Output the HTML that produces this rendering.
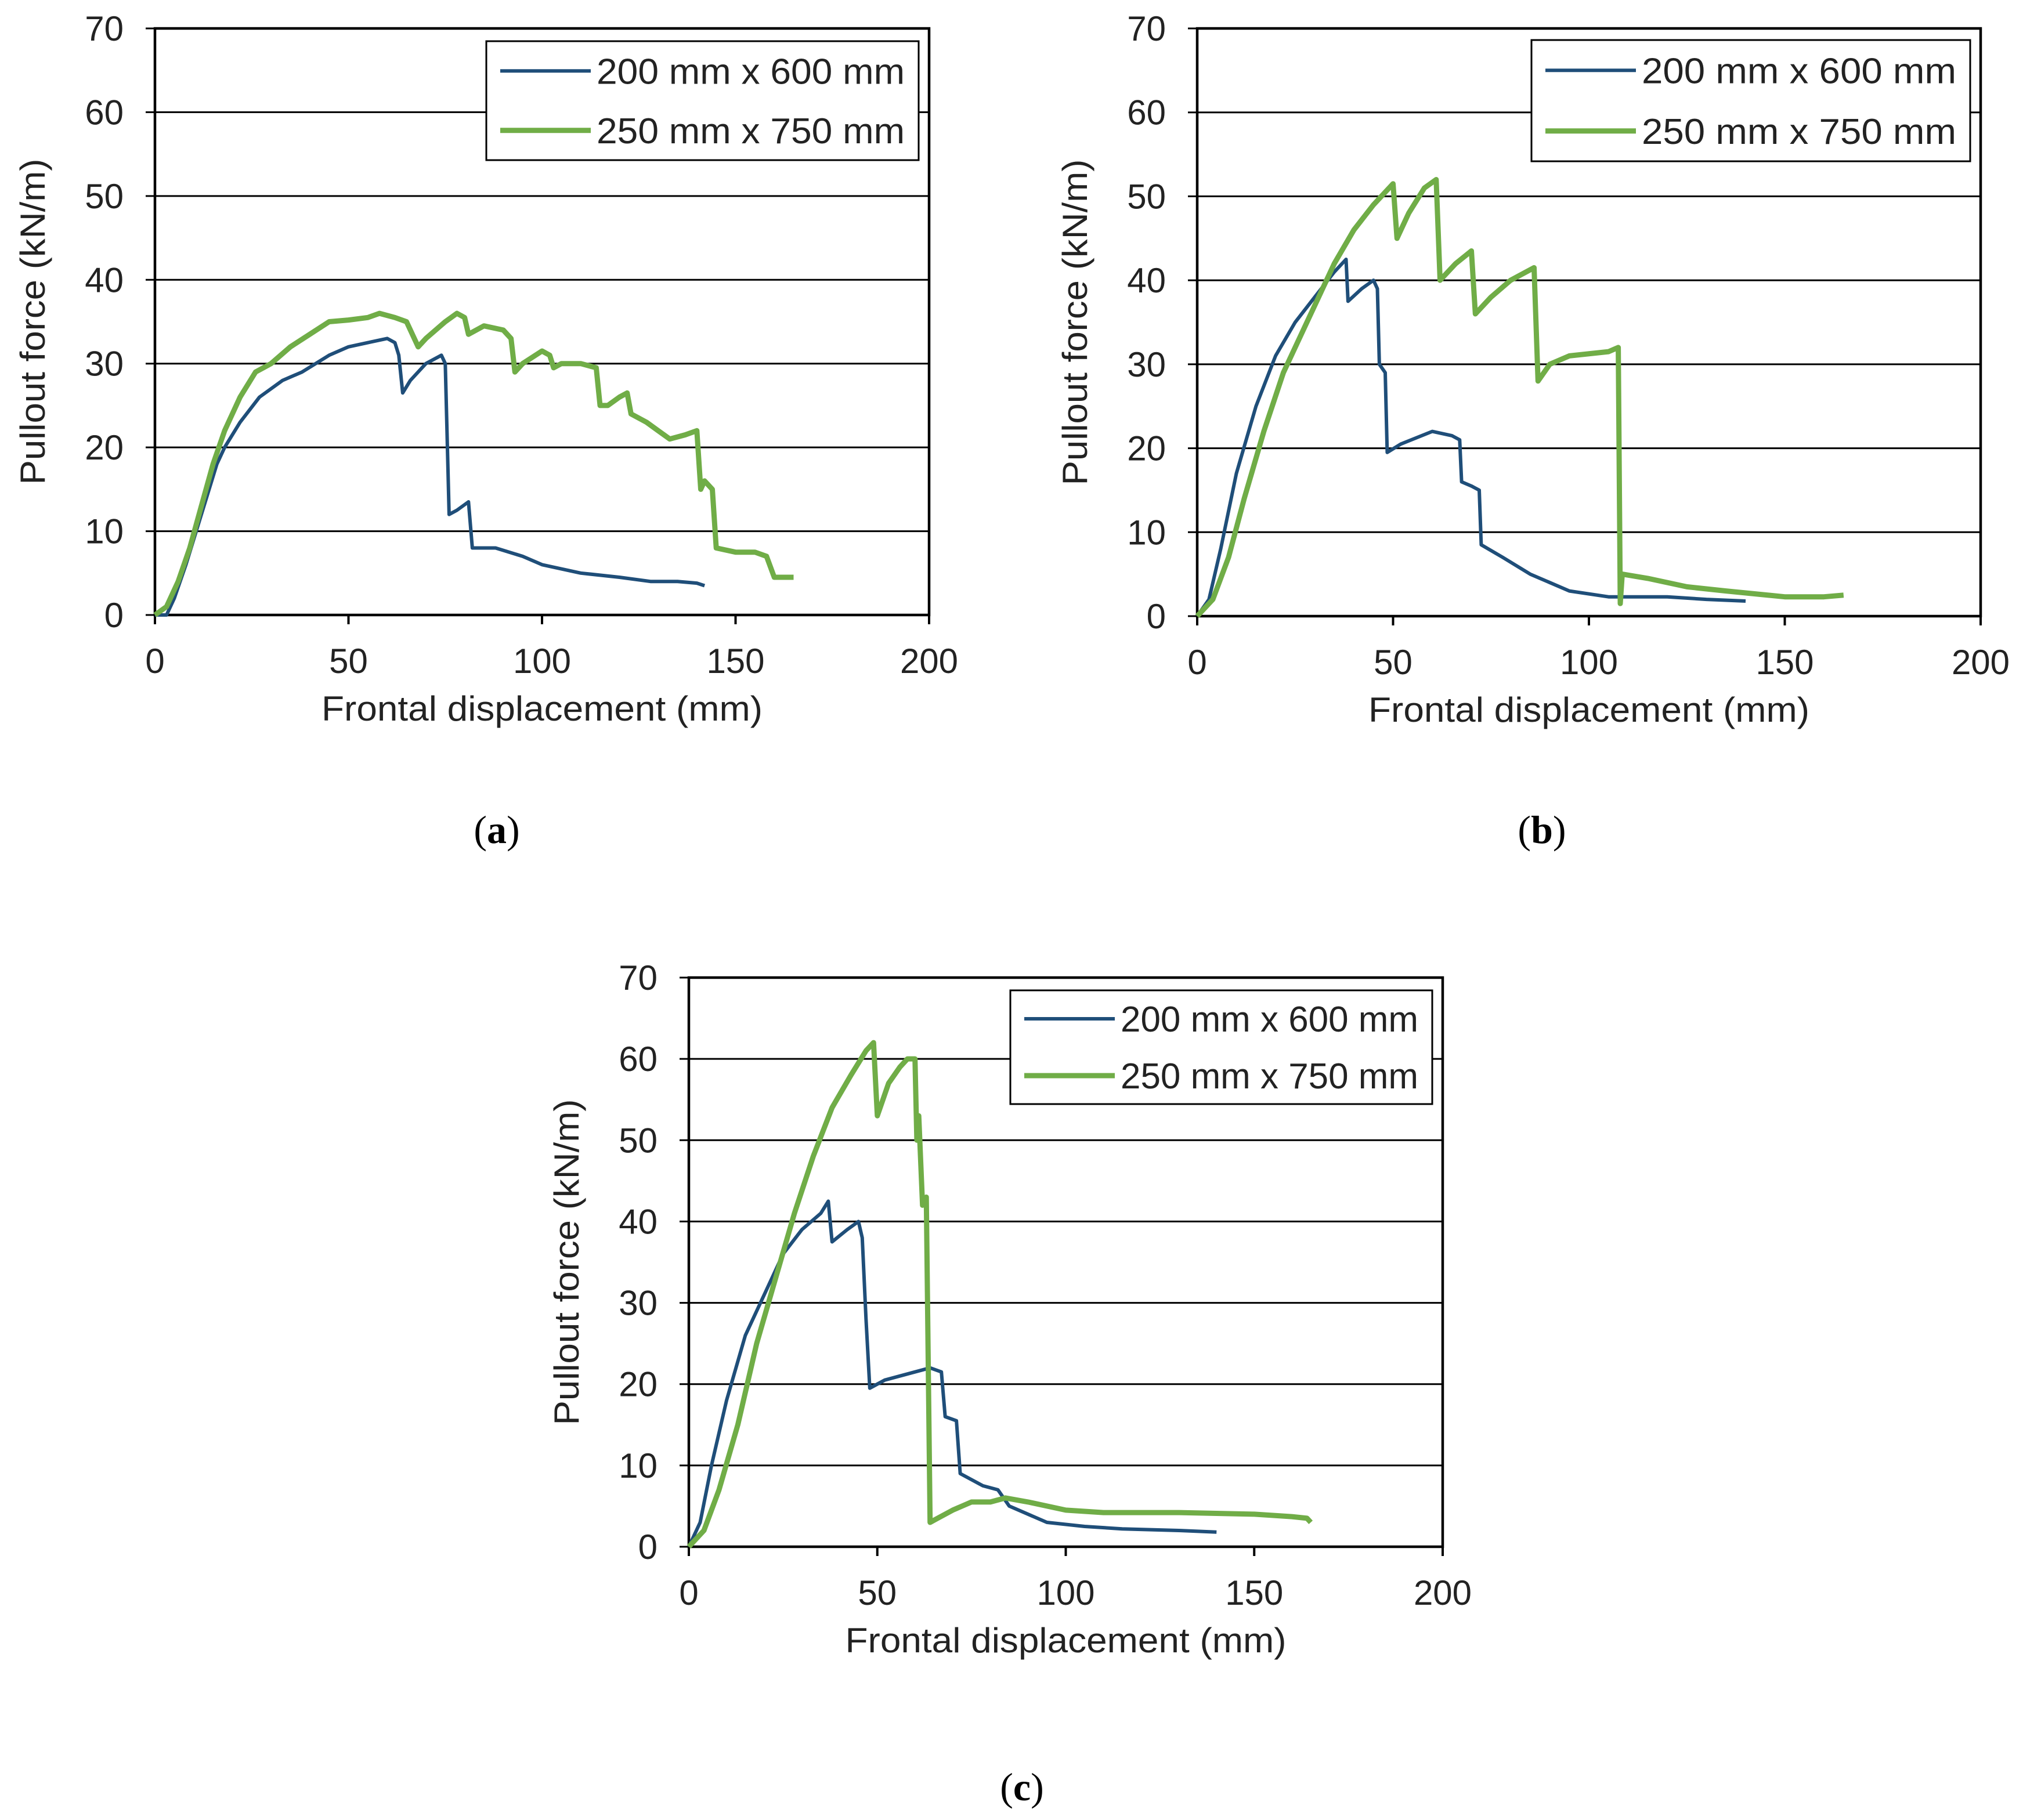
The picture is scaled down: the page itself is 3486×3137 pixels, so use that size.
<!DOCTYPE html>
<html><head><meta charset="utf-8"><style>
html,body{margin:0;padding:0;background:#fff;}
svg{display:block;font-family:"Liberation Sans",Arial,sans-serif;}
</style></head><body>
<svg id="fig" width="3486" height="3137" viewBox="0 0 3486 3137" xmlns="http://www.w3.org/2000/svg">
<rect width="3486" height="3137" fill="#fff"/>
</svg>
<script>
const xTicks=[0,50,100,150,200];
const yTicks=[0,10,20,30,40,50,60,70];
const seriesNames=["200 mm x 600 mm","250 mm x 750 mm"];
const aBlue=[[0,0],[3,0],[5,2],[8,6],[12,12],[16,18],[18,20],[22,23],[27,26],[33,28],[38,29],[45,31],[50,32],[55,32.5],[60,33],[62,32.5],[63,31],[64,26.5],[66,28],[70,30],[74,31],[75,30],[76,12],[78,12.5],[81,13.5],[82,8],[88,8],[95,7],[100,6],[110,5],[120,4.5],[128,4],[135,4],[140,3.8],[142,3.5]];
const aGreen=[[0,0],[3,1],[6,4],[9,8],[12,13],[15,18],[18,22],[22,26],[26,29],[30,30],[35,32],[40,33.5],[45,35],[50,35.2],[55,35.5],[58,36],[62,35.5],[65,35],[68,32],[70,33],[75,35],[78,36],[80,35.5],[81,33.5],[85,34.5],[90,34],[92,33],[93,29],[95,30],[100,31.5],[102,31],[103,29.5],[105,30],[110,30],[114,29.5],[115,25],[117,25],[120,26],[122,26.5],[123,24],[127,23],[130,22],[133,21],[137,21.5],[140,22],[141,15],[142,16],[144,15],[145,8],[150,7.5],[155,7.5],[158,7],[160,4.5],[165,4.5]];
const bBlue=[[0,0],[3,2],[6,8],[10,17],[15,25],[20,31],[25,35],[30,38],[35,41],[38,42.5],[38.5,37.5],[42,39],[45,40],[46,39],[46.5,30],[48,29],[48.5,19.5],[52,20.5],[60,22],[65,21.5],[67,21],[67.5,16],[70,15.5],[72,15],[72.5,8.5],[78,7],[85,5],[95,3],[105,2.3],[120,2.3],[130,2],[140,1.8]];
const bGreen=[[0,0],[4,2],[8,7],[12,14],[17,22],[22,29],[28,35],[35,42],[40,46],[45,49],[50,51.5],[51,45],[54,48],[58,51],[61,52],[62,40],[66,42],[70,43.5],[71,36],[75,38],[80,40],[86,41.5],[87,28],[90,30],[95,31],[105,31.5],[107.5,32],[108,1.5],[108.5,5],[115,4.5],[125,3.5],[135,3],[150,2.3],[160,2.3],[165,2.5]];
const cBlue=[[0,0],[3,3],[6,10],[10,18],[15,26],[20,31],[25,36],[30,39],[35,41],[37,42.5],[38,37.5],[42,39],[45,40],[46,38],[47,28],[48,19.5],[52,20.5],[60,21.5],[64,22],[67,21.5],[68,16],[71,15.5],[72,9],[78,7.5],[82,7],[85,5],[95,3],[105,2.5],[115,2.2],[130,2],[140,1.8]];
const cGreen=[[0,0],[4,2],[8,7],[13,15],[18,25],[23,33],[28,41],[33,48],[38,54],[43,58],[47,61],[49,62],[50,53],[53,57],[56,59],[58,60],[60,60],[60.5,50],[61,53],[62,42],[63,43],[64,3],[66,3.5],[70,4.5],[75,5.5],[80,5.5],[84,6],[90,5.5],[100,4.5],[110,4.2],[130,4.2],[150,4],[160,3.7],[164,3.5],[165,3]];

const NS="http://www.w3.org/2000/svg";
const svg=document.getElementById('fig');
function mk(tag,attrs,parent){const e=document.createElementNS(NS,tag);for(const k in attrs)e.setAttribute(k,attrs[k]);parent.appendChild(e);return e;}

function chart(id,L,R,T,B,blue,green,leg){
  const g=mk('g',{},svg);
  
  
  const sx=v=>L+(v-0)/(200-0)*(R-L);
  const sy=v=>B-(v-0)/(70-0)*(B-T);
  yTicks.forEach(t=>{
    const ln=mk('line',{x1:L-16,x2:R,y1:sy(t),y2:sy(t),stroke:'#000','stroke-width':3},g);
    
    
    const tx=mk('text',{x:L-54,y:sy(t)+21,'font-size':60,'text-anchor':'end',fill:'#222'},g);
    tx.textContent=t;
    
    
  });
  xTicks.forEach(t=>{
    const ln=mk('line',{x1:sx(t),x2:sx(t),y1:B,y2:B+16,stroke:'#000','stroke-width':4},g);
    
    
    const tx=mk('text',{x:sx(t),y:B+100,'font-size':60,'text-anchor':'middle',fill:'#222'},g);
    tx.textContent=t;
    
    
  });
  const fr=mk('rect',{x:L,y:T,width:R-L,height:B-T,fill:'none',stroke:'#000','stroke-width':4.5},g);
  
  
  const xt=mk('text',{x:(L+R)/2,y:B+182,'font-size':60,'text-anchor':'middle',textLength:760,lengthAdjust:'spacingAndGlyphs',fill:'#222'},g);
  xt.textContent='Frontal displacement (mm)';
  
  
  const yx=L-190,yy=(T+B)/2;
  const yt=mk('text',{x:yx,y:yy,'font-size':60,'text-anchor':'middle',textLength:562,lengthAdjust:'spacingAndGlyphs',fill:'#222',transform:'rotate(-90 '+yx+' '+yy+')'},g);
  yt.textContent='Pullout  force (kN/m)';
  
  
  const path=(d,c,w,n)=>{const p=mk('polyline',{points:d.map(q=>sx(q[0]).toFixed(1)+','+sy(q[1]).toFixed(1)).join(' '),fill:'none',stroke:c,'stroke-width':w,'stroke-linejoin':'round'},g);
    
    };
  path(blue,'#1f4e79',6,'series-200x600');
  path(green,'#70ad47',9,'series-250x750');
  const lg=mk('g',{},g);
  
  
  mk('rect',{x:leg[0],y:leg[1],width:leg[2],height:leg[3],fill:'#fff',stroke:'#000','stroke-width':3},lg);
  const cols=['#1f4e79','#70ad47'],ws=[6,9];
  [0,1].forEach(i=>{
    const cy=leg[1]+leg[3]*(0.25+0.5*i);
    mk('line',{x1:leg[0]+24,x2:leg[0]+180,y1:cy,y2:cy,stroke:cols[i],'stroke-width':ws[i]},lg);
    const t=mk('text',{x:leg[0]+190,y:cy+22,'font-size':62,textLength:leg[2]-214,lengthAdjust:'spacingAndGlyphs',fill:'#222'},lg);
    t.textContent=seriesNames[i];
    
    
  });
}
chart('a',267,1601,49,1060,aBlue,aGreen,[838,71,745,205]);
chart('b',2063,3413,49,1062,bBlue,bGreen,[2639,69,756,209]);
chart('c',1187,2486,1685,2666,cBlue,cGreen,[1741,1707,727,196]);
[['a',856,1453],['b',2657,1453],['c',1761,3103]].forEach(c=>{
  const t=mk('text',{x:c[1],y:c[2],'font-size':68,'text-anchor':'middle','font-family':'Liberation Serif, serif',fill:'#000'},svg);
  t.innerHTML='(<tspan font-weight="bold">'+c[0]+'</tspan>)';
  
  
});
</script>
</body></html>
